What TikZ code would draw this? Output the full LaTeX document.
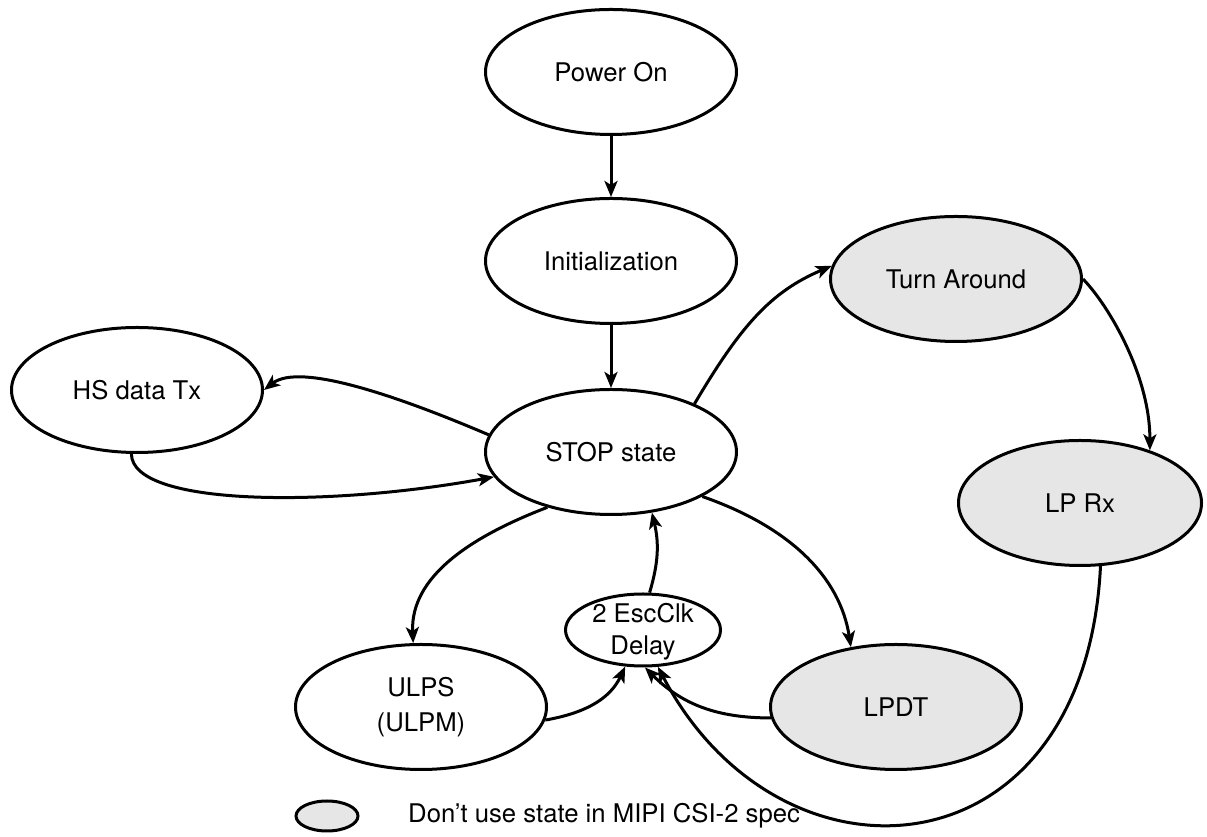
\documentclass[tikz,border=0pt]{standalone}
\usepackage{fontspec}
\setmainfont{TeX Gyre Heros}
\usetikzlibrary{shapes.geometric,arrows.meta}
\definecolor{stategray}{HTML}{E6E6E6}
\begin{document}
\begin{tikzpicture}[x=1pt,y=1pt,
  st/.style={ellipse,draw=black,line width=3pt,minimum width=251pt,minimum height=125pt,inner sep=0pt,
    font=\fontsize{25.7}{35}\selectfont,align=center},
  grey/.style={fill=stategray},
  conn/.style={line width=3pt,-{Stealth[length=16pt,width=13pt,inset=4pt]}},
  txt/.style={font=\fontsize{25.7}{32}\selectfont,align=center,inner sep=0pt}]
\useasboundingbox (0,0) rectangle (1207,837);
\node[st] (pwr) at (611,765) {Power On};
\node[st] (init) at (611,576) {Initialization};
\node[st] (stop) at (611,385) {STOP state};
\node[st] (hs) at (137,447) {HS data Tx};
\node[st,grey] (ta) at (956,558) {Turn Around};
\node[st,grey,minimum width=243pt] (lprx) at (1080,334) {LP Rx};
\node[st] (ulps) at (421,130) {ULPS\\(ULPM)};
\node[st,grey] (lpdt) at (896,130) {LPDT};
\node[ellipse,draw=black,line width=3pt,minimum width=155pt,minimum height=72pt,inner sep=0pt] (delay) at (643,207) {};
\node[txt] (delaytxt) at (643,205) {2 EscClk\\Delay};
\node[ellipse,draw=black,line width=3pt,grey,minimum width=62pt,minimum height=30pt,inner sep=0pt] (leg) at (327,21) {};
\node[txt,anchor=west] (legtxt) at (408,21) {Don’t use state in MIPI CSI-2 spec};

\draw[conn] (pwr.south) -- (init.north);
\draw[conn] (init.south) -- (stop.north);
\draw[conn] (stop.172) .. controls (400,440) and (300,475) .. (hs.east);
\draw[conn] (hs.-95) .. controls (132,330) and (330,330) .. (stop.192);
\draw[conn] (stop.30) .. controls (740,510) and (770,545) .. (ta.174);
\draw[conn] (ta.east) .. controls (1110,530) and (1150,460) .. (lprx.37);
\draw[conn] (stop.221) .. controls (470,300) and (410,260) .. (ulps.97);
\draw[conn] (stop.-26) .. controls (790,310) and (840,260) .. (lpdt.127);
\draw[conn] (delay.80) to[bend right=15] (stop.-56);
\draw[conn] (ulps.-6) to[out=10,in=-115] (delay.-116);
\draw[conn] (lpdt.185) to[out=180,in=-45] (delay.-87);
\draw[conn] (lprx.-72) .. controls (1085,-43) and (780,-63) .. (delay.-68);
\end{tikzpicture}
\end{document}
